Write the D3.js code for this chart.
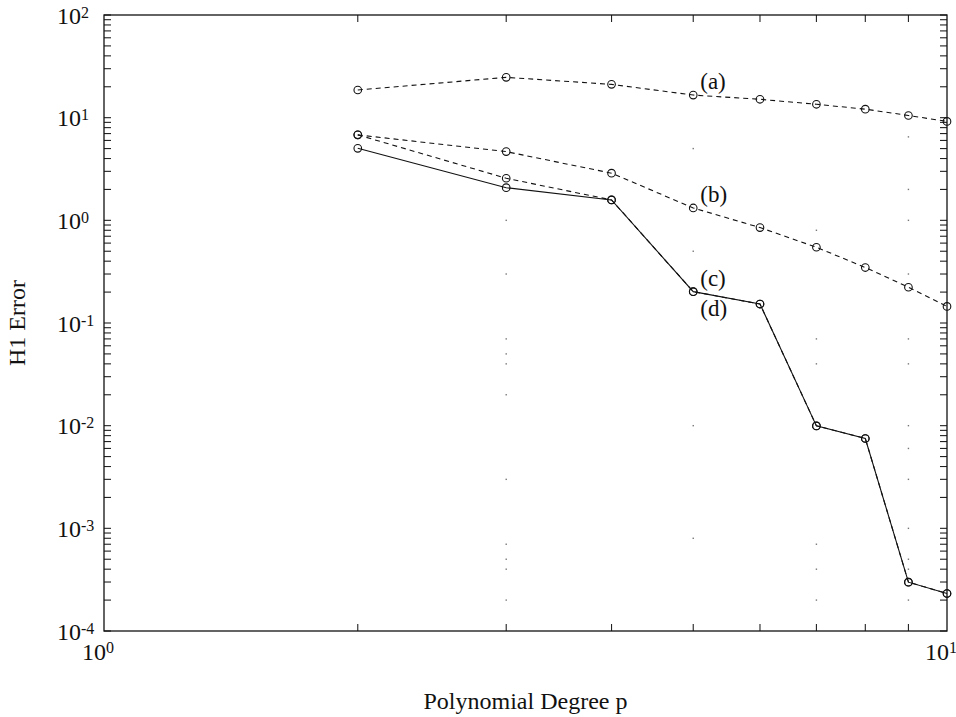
<!DOCTYPE html>
<html>
<head>
<meta charset="utf-8">
<script src="https://cdn.jsdelivr.net/npm/d3@7"></script>
<style>
  body { margin: 0; background: #fff; }
  text { font-family: "Liberation Serif", "DejaVu Serif", serif; fill: #111; }
</style>
</head>
<body>
<script>
// polynomial degree p
const degrees = [2, 3, 4, 5, 6, 7, 8, 9, 10];

// H1 error for each run
const errA = [18.6, 24.7, 21.1, 16.6, 15.1, 13.5, 12.1, 10.5, 9.2];
const errB = [6.8, 4.67, 2.88, 1.32, 0.85, 0.547, 0.347, 0.223, 0.145];
const errC = [6.8, 2.57, 1.58, 0.202, 0.153, 0.00995, 0.0075, 0.000299, 0.000232];
const errD = [5.03, 2.08, 1.58, 0.202, 0.153, 0.00995, 0.0075, 0.000299, 0.000232];

const seriesNames = ["(a)", "(b)", "(c)", "(d)"];
const labelAt = 5; // labels sit next to the p = 5 point

// faint remains of a dotted grid, [p, error]
const gridDots = [
  [3, 1], [3, 0.3], [3, 0.07], [3, 0.05], [3, 0.04], [3, 0.02], [3, 0.003],
  [3, 0.0007], [3, 0.0005], [3, 0.0004], [3, 0.0002],
  [5, 5], [5, 0.5], [5, 0.01], [5, 0.0008],
  [7, 0.8], [7, 0.07], [7, 0.04], [7, 0.0007], [7, 0.0004], [7, 0.0002],
  [9, 6.5], [9, 2], [9, 1], [9, 0.3], [9, 0.07], [9, 0.04], [9, 0.01], [9, 0.006],
  [9, 0.003], [9, 0.001], [9, 0.0005], [9, 0.0004], [9, 0.0002]
];

const xDecades = [1, 10];
const yDecades = [1e-4, 1e-3, 1e-2, 1e-1, 1, 10, 100];

const width = 956, height = 717;
const margin = {top: 15, right: 9, bottom: 86, left: 104};

const x = d3.scaleLog().domain([1, 10]).range([margin.left, width - margin.right]);
const y = d3.scaleLog().domain([1e-4, 1e2]).range([height - margin.bottom, margin.top]);

const svg = d3.select("body").append("svg")
  .attr("width", width)
  .attr("height", height);

const x0 = x.range()[0], x1 = x.range()[1];
const y0 = y.range()[0], y1 = y.range()[1];
const tickLen = 7;

// ----- grid dots -----
svg.append("g")
  .selectAll("rect")
  .data(gridDots)
  .join("rect")
    .attr("x", d => x(d[0]) - 0.7)
    .attr("y", d => y(d[1]) - 0.7)
    .attr("width", 1.4)
    .attr("height", 1.4)
    .attr("fill", "#777");

// ----- minor / major ticks, all pointing inward -----
const xMinor = d3.range(2, 10);
const yTicks = [];
yDecades.slice(0, -1).forEach(dec => {
  for (let k = 1; k < 10; k++) yTicks.push(dec * k);
});
yTicks.push(100);

const ticks = svg.append("g").attr("stroke", "#222").attr("stroke-width", 1.1);

ticks.selectAll(".xb").data(xMinor).join("line")
  .attr("x1", d => x(d)).attr("x2", d => x(d))
  .attr("y1", y0).attr("y2", y0 - tickLen);
ticks.selectAll(".xt").data(xMinor).join("line")
  .attr("x1", d => x(d)).attr("x2", d => x(d))
  .attr("y1", y1).attr("y2", y1 + tickLen);
ticks.selectAll(".yl").data(yTicks).join("line")
  .attr("x1", x0).attr("x2", x0 + tickLen)
  .attr("y1", d => y(d)).attr("y2", d => y(d));
ticks.selectAll(".yr").data(yTicks).join("line")
  .attr("x1", x1).attr("x2", x1 - tickLen)
  .attr("y1", d => y(d)).attr("y2", d => y(d));

// frame
svg.append("rect")
  .attr("x", x0).attr("y", y1)
  .attr("width", x1 - x0).attr("height", y0 - y1)
  .attr("fill", "none")
  .attr("stroke", "#111")
  .attr("stroke-width", 1.3);

// ----- tick labels as 10^n -----
const yLab = svg.append("g").attr("font-size", 24);
yDecades.forEach(v => {
  const t = yLab.append("text")
    .attr("x", 57)
    .attr("y", y(v) + 8.5);
  t.append("tspan").text("10");
  t.append("tspan").attr("font-size", 16).attr("dy", -6).text(Math.round(Math.log10(v)));
});

const xLab = svg.append("g").attr("font-size", 24);
xDecades.forEach(v => {
  const t = xLab.append("text")
    .attr("x", x(v) - 22)
    .attr("y", 660);
  t.append("tspan").text("10");
  t.append("tspan").attr("font-size", 16).attr("dy", -7).text(Math.round(Math.log10(v)));
});

// axis titles
svg.append("text")
  .attr("x", (x0 + x1) / 2)
  .attr("y", 709)
  .attr("text-anchor", "middle")
  .attr("font-size", 24)
  .text("Polynomial Degree p");

svg.append("text")
  .attr("transform", `translate(25,${(y0 + y1) / 2}) rotate(-90)`)
  .attr("text-anchor", "middle")
  .attr("font-size", 24)
  .text("H1 Error");

// ----- series -----
const allSeries = [errA, errB, errC, errD];
const dashes = ["5,4", "5,4", "5,4", null];

const line = d3.line()
  .x((d, i) => x(degrees[i]))
  .y(d => y(d));

const plot = svg.append("g");

allSeries.forEach((s, k) => {
  plot.append("path")
    .datum(s)
    .attr("d", line)
    .attr("fill", "none")
    .attr("stroke", "#111")
    .attr("stroke-width", 1.1)
    .attr("stroke-dasharray", dashes[k]);

  plot.append("g")
    .selectAll("circle")
    .data(s)
    .join("circle")
      .attr("cx", (d, i) => x(degrees[i]))
      .attr("cy", d => y(d))
      .attr("r", 3.8)
      .attr("fill", "none")
      .attr("stroke", "#111")
      .attr("stroke-width", 1.1);
});

// (a)..(d) labels
const li = degrees.indexOf(labelAt);
const labelDy = [-6, -6, -6, 24];
allSeries.forEach((s, k) => {
  svg.append("text")
    .attr("x", x(labelAt) + 7)
    .attr("y", y(s[li]) + labelDy[k])
    .attr("font-size", 23)
    .text(seriesNames[k]);
});
</script>
</body>
</html>
